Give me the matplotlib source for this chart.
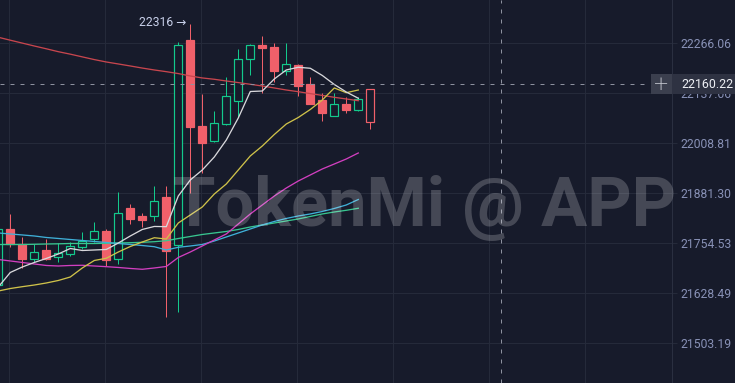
import numpy as np
import matplotlib.pyplot as plt
from matplotlib.patches import Rectangle
from matplotlib.ticker import NullLocator

# candle data
opens = [21648.6, 21789.3, 21752.0, 21715.0, 21736.9, 21718.5, 21726.0, 21745.2,
         21765.5, 21784.2, 21713.4, 21842.5, 21823.0, 21823.0, 21870.4, 21749.5,
         22273.8, 22052.4, 22014.7, 22057.5, 22115.8, 22225.6, 22261.7, 22255.7,
         22194.6, 22209.3, 22159.5, 22119.1, 22077.3, 22108.1, 22092.7, 22146.6]
highs = [21797.6, 21828.1, 21770.5, 21752.0, 21763.9, 21753.8, 21756.3, 21783.2,
         21807.0, 21790.8, 21884.6, 21853.4, 21831.4, 21899.2, 21899.2, 22267.4,
         22316.0, 22134.5, 22090.1, 22177.6, 22249.8, 22262.2, 22285.0, 22266.8,
         22266.1, 22211.9, 22179.1, 22137.8, 22137.8, 22127.6, 22127.6, 22146.6]
lows = [21636.0, 21745.2, 21692.3, 21707.4, 21711.7, 21705.9, 21721.8, 21738.6,
        21757.9, 21696.5, 21701.6, 21802.0, 21794.4, 21811.1, 21569.1, 21581.6,
        21881.3, 21932.3, 22012.0, 22055.0, 22076.3, 22182.7, 22136.3, 22166.2,
        22183.5, 22130.1, 22108.9, 22065.2, 22076.8, 22085.0, 22092.0, 22044.7]
closes = [21790.0, 21751.3, 21714.2, 21731.1, 21714.2, 21728.6, 21747.7, 21758.9,
          21784.2, 21712.4, 21829.8, 21816.2, 21813.6, 21861.8, 21735.1, 22260.9,
          22048.6, 22009.6, 22059.4, 22128.6, 22224.0, 22260.1, 22253.9, 22194.6,
          22211.1, 22155.9, 22109.6, 22086.5, 22108.1, 22092.7, 22120.9, 22063.4]

# moving average lines
ma_red = [22280.9, 22273.3, 22265.8, 22258.3, 22251.1, 22243.6, 22237.2, 22230.2,
          22223.2, 22217.0, 22211.9, 22206.7, 22201.3, 22196.4, 22192.0, 22187.1,
          22180.9, 22175.8, 22172.4, 22168.0, 22163.9, 22159.5, 22155.1, 22150.0,
          22144.8, 22140.4, 22135.5, 22130.9, 22126.0, 22121.7, 22117.3]
ma_white = [21643.6, 21680.2, 21694.0, 21705.4, 21715.5, 21726.8, 21740.7, 21735.6,
            21736.9, 21738.2, 21754.5, 21772.3, 21788.8, 21796.4, 21795.9, 21873.7,
            21914.5, 21939.9, 21973.1, 22016.5, 22072.9, 22140.9, 22142.2, 22173.2,
            22196.4, 22203.4, 22200.8, 22182.2, 22159.0, 22139.6, 22123.5]
ma_yellow = [21633.5, 21639.8, 21644.4, 21648.6, 21653.7, 21660.0, 21668.8, 21691.5,
             21710.4, 21716.0, 21731.8, 21745.7, 21757.1, 21767.9, 21764.6, 21805.2,
             21825.5, 21845.8, 21878.8, 21904.3, 21939.9, 21975.7, 22001.2, 22030.6,
             22057.5, 22074.2, 22094.7, 22119.1, 22150.0, 22137.8, 22144.8]
ma_magenta = [21712.9, 21709.2, 21705.4, 21701.6, 21697.8, 21696.5, 21697.8, 21698.3,
              21696.5, 21694.8, 21692.8, 21690.3, 21688.2, 21691.5, 21695.3, 21718.0,
              21731.8, 21747.0, 21762.2, 21777.4, 21802.7, 21828.1, 21850.9, 21873.7,
              21894.0, 21911.9, 21927.2, 21942.5, 21955.2, 21968.0, 21983.3]
ma_cyan = [21779.9, 21777.4, 21774.9, 21772.3, 21768.5, 21766.0, 21763.4, 21760.9,
           21758.4, 21755.8, 21753.3, 21750.8, 21748.2, 21745.2, 21736.9, 21743.7,
           21747.0, 21750.8, 21759.6, 21769.8, 21779.9, 21790.0, 21800.2, 21809.1,
           21816.7, 21823.0, 21828.1, 21834.4, 21842.0, 21850.9, 21864.8]
ma_green = [21750.7, 21750.7, 21750.7, 21751.3, 21752.0, 21752.5, 21753.3, 21753.3,
            21753.3, 21753.8, 21754.6, 21755.3, 21756.3, 21757.8, 21760.4, 21765.9,
            21771.0, 21776.1, 21779.9, 21783.7, 21788.8, 21795.1, 21800.2, 21805.2,
            21810.3, 21815.4, 21821.7, 21828.1, 21833.1, 21837.4, 21842.5]

price_ticks = [21503.19, 21628.49, 21754.53, 21881.30, 22008.81, 22137.06, 22266.06]
cross_price = 22160.22
cross_x = 41.92
max_label = 22316

bg = '#171b2b'
grid_c = '#252a3a'
up_c = '#13c98c'
down_c = '#f0606a'
px = 0.72  # one pixel in points at dpi 100

W, H = 735, 383
fig = plt.figure(figsize=(W / 100, H / 100), dpi=100, facecolor=bg)
ax = fig.add_axes([0, 0, 671.7 / W, 1])
ax.set_facecolor(bg)
ax.set_yscale('log')
ax.set_ylim(21403.5, 22377.6)
ax.set_xlim(0.1417, 56.117)

# grid
ax.set_xticks(np.arange(0.89, 56, 8))
ax.xaxis.set_ticklabels([])
ax.tick_params(axis='x', length=0)
ax.yaxis.set_minor_locator(NullLocator())
ax.set_yticks(price_ticks, ['%.2f' % p for p in price_ticks])
ax.yaxis.tick_right()
ax.tick_params(axis='y', length=5 * px, width=px, color=grid_c, labelcolor='#8891b6',
               labelsize=8.7, pad=3)
for lab in ax.get_yticklabels():
    lab.set_family('Roboto')
ax.grid(True, color=grid_c, lw=px, zorder=0)
ax.set_axisbelow(True)
for s in ['left', 'top', 'bottom']:
    ax.spines[s].set_visible(False)
ax.spines['right'].set_color('#2a2f40')
ax.spines['right'].set_linewidth(px)

# watermark
fig.text(173 / W, 1 - 226 / H, 'TokenMi @ APP', family='Roboto', weight='bold',
         fontsize=49.5, color='white', alpha=0.2, ha='left', va='baseline', zorder=0.5)

# candles
x = np.arange(len(opens))
w = 8 / 12
for i in x:
    o, h, l, c = opens[i], highs[i], lows[i], closes[i]
    last = i == len(opens) - 1
    col = up_c if c >= o else down_c
    ax.vlines(i, l, min(o, c), color=col, lw=px, zorder=3)
    if not last:
        ax.vlines(i, max(o, c), h, color=col, lw=px, zorder=3)
    hollow = c >= o or last
    ax.add_patch(Rectangle((i - w / 2, min(o, c)), w, abs(c - o),
                           facecolor=bg if hollow else col, edgecolor=col,
                           lw=1.2 * px, zorder=3))

# moving averages
xm = np.arange(len(ma_red))
ax.plot(xm, ma_red, color='#c8464e', lw=1.3 * px, zorder=4)
ax.plot(xm, ma_green, color='#38c690', lw=1.3 * px, zorder=4)
ax.plot(xm, ma_cyan, color='#3fb0d8', lw=1.3 * px, zorder=4)
ax.plot(xm, ma_magenta, color='#d23fc0', lw=1.3 * px, zorder=4)
ax.plot(xm, ma_yellow, color='#cfc24a', lw=1.3 * px, zorder=4)
ax.plot(xm, ma_white, color='#d8d8dc', lw=1.3 * px, zorder=4)

# highest price label
ax.annotate('%d \u2192' % max_label, xy=(16, max_label), xytext=(-3, 1),
            textcoords='offset points', ha='right', va='center', fontsize=8.7,
            color='#c8d0ea', family=['Roboto', 'DejaVu Sans'], zorder=5)

# crosshair
ax.axhline(cross_price, xmax=650 / 671.7, color='#8d919f', lw=px,
           linestyle=(0, (4, 6)), zorder=5)
ax.axvline(cross_x, color='#8d919f', lw=px, linestyle=(0, (4, 6)), zorder=5)

yc = 1 - 84 / H
fig.add_artist(Rectangle((651 / W, 1 - 93.5 / H), 20.7 / W, 19.5 / H,
                         transform=fig.transFigure, facecolor='#3b3f4e', lw=0))
fig.add_artist(Rectangle((671.7 / W, 1 - 93.5 / H), 63.3 / W, 19.5 / H,
                         transform=fig.transFigure, facecolor='#2e3242', lw=0))
fig.text(661 / W, yc, '+', fontsize=14, color='#c9ccd5', ha='center', va='center',
         family='DejaVu Sans', weight='light')
fig.text(681 / W, yc, '%.2f' % cross_price, fontsize=8.9, color='#eef0f5',
         ha='left', va='center', family='Roboto')

plt.savefig('out.png', dpi=100, facecolor=bg)
